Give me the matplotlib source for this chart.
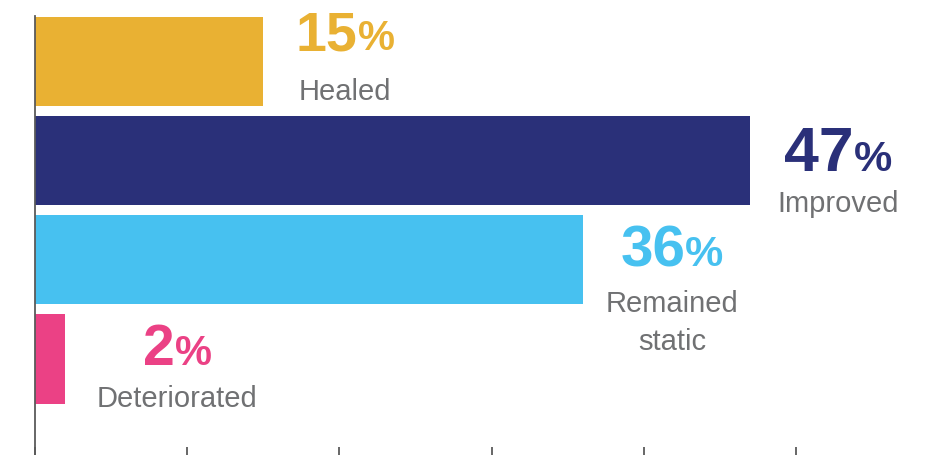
import matplotlib
matplotlib.use("Agg")
import matplotlib.pyplot as plt
from matplotlib.transforms import offset_copy

categories = ["Healed", "Improved", "Remained\nstatic", "Deteriorated"]
values = [15, 47, 36, 2]
colors = ["#E9B133", "#2A3079", "#47C1F0", "#EB4185"]
xticks = [0, 10, 20, 30, 40, 50]

# text placement styling (pixels relative to bar end / bar centre)
dx = [82, 88, 89, 112]
dy_num = [-11.5, 10.5, 6.5, 5.5]
dy_lab = [38.5, 51, 52.5, 48]
num_size = [40, 45, 42, 41]
pct_size = [30, 31, 31, 30]
line_gap = 38

W, H, DPI = 938, 455, 100
fig = plt.figure(figsize=(W / DPI, H / DPI), dpi=DPI)
ax = fig.add_axes([35 / W, -2 / H, 1 - 35 / W, (455 - 16 + 2) / H])

ypos = list(range(len(values)))
ax.barh(ypos, values, height=0.9, color=colors, zorder=2)
ax.set_xlim(0, 903 / 15.22)
ax.set_ylim(3.988, -0.459)

for s in ["top", "right", "bottom"]:
    ax.spines[s].set_visible(False)
ax.spines["left"].set_color("#5a5a5a")
ax.spines["left"].set_linewidth(1.3)
ax.set_yticks([])
ax.set_xticks(xticks)
ax.tick_params(axis="x", direction="in", length=7, width=1.3, color="#5a5a5a",
               labelbottom=False)

FONT = "Liberation Sans"
grey = "#707173"
fig.canvas.draw()
renderer = fig.canvas.get_renderer()

for i, (cat, v, c) in enumerate(zip(categories, values, colors)):
    tnum = ax.text(v, i, f"{v}", fontsize=num_size[i], fontweight="bold", color=c,
                   family=FONT, ha="left", va="baseline")
    tpct = ax.text(v, i, "%", fontsize=pct_size[i], fontweight="bold", color=c,
                   family=FONT, ha="left", va="baseline")
    wn = tnum.get_window_extent(renderer).width
    wp = tpct.get_window_extent(renderer).width
    gap = 0
    total = wn + gap + wp
    x0 = dx[i] - total / 2
    tnum.set_transform(offset_copy(ax.transData, fig=fig, x=x0, y=-dy_num[i], units="dots"))
    tpct.set_transform(offset_copy(ax.transData, fig=fig, x=x0 + wn + gap, y=-dy_num[i], units="dots"))
    for k, line in enumerate(cat.split("\n")):
        ax.text(v, i, line, fontsize=21, color=grey, family=FONT,
                ha="center", va="baseline",
                transform=offset_copy(ax.transData, fig=fig, x=dx[i],
                                      y=-(dy_lab[i] + k * line_gap), units="dots"))

fig.savefig("out.png", dpi=DPI)
